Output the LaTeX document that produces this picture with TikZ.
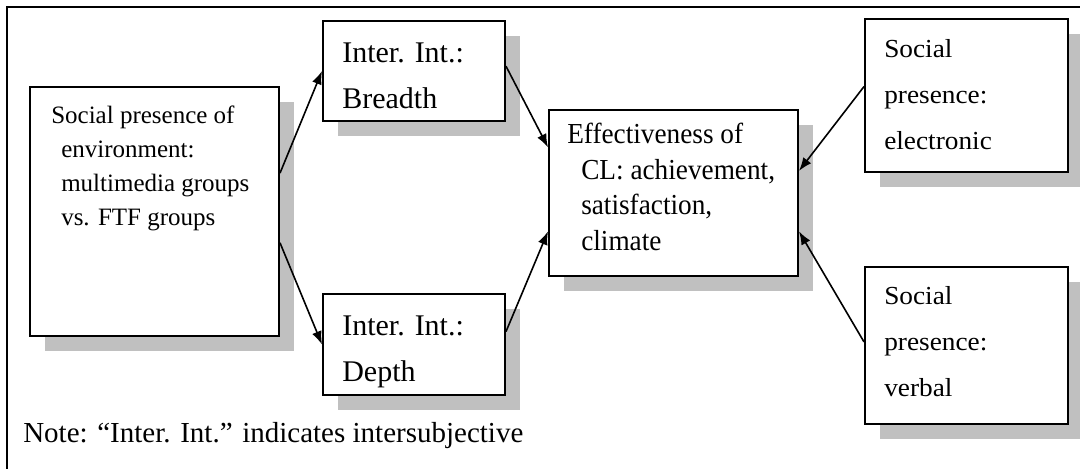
\documentclass[tikz,border=0pt]{standalone}
\usepackage{fontspec}
\setmainfont{Liberation Serif}
\newfontfamily\efffont[FakeStretch=0.94]{Liberation Serif}
\newfontfamily\socfont[FakeStretch=1.05]{Liberation Serif}
\usepackage{xcolor}
\usetikzlibrary{positioning,arrows.meta,shadows}
\definecolor{ink}  {HTML}{000000}
\definecolor{shade}{HTML}{C0C0C0}
\tikzset{
  card/.style  = {draw=ink, fill=white, line width=1.5pt, inner sep=0pt,
                  drop shadow={shadow xshift=11pt, shadow yshift=-11pt,
                               fill=shade, opacity=1}},
  flow/.style  = {-{Latex[length=10pt,width=7.5pt]}, draw=ink, line width=1.2pt},
  frame/.style = {draw=ink, line width=1.3pt},
  txt/.style   = {anchor=base west, align=left, inner sep=0pt, text=ink},
  small/.style = {font=\fontsize{18.75}{25.5}\selectfont},
  mid/.style   = {font=\efffont\fontsize{21.75}{26.6}\selectfont},
  wide/.style  = {font=\socfont\fontsize{19.5}{34.5}\selectfont},
  big/.style   = {font=\fontsize{22.5}{34.5}\selectfont},
}

\begin{document}
\begin{tikzpicture}[x=0.75pt, y=-0.75pt]
  \useasboundingbox (0,0) rectangle (1080,469);
  % outer frame (cut at right and bottom)
  \draw[frame] (1080,7) -- (7,7) -- (7,469);

  % boxes
  \node[card, minimum width=186.75pt, minimum height=186.75pt] (env)    at (154.5,211.5) {};
  \node[card, minimum width=136.5pt,  minimum height=75pt]     (breadth) at (414,71) {};
  \node[card, minimum width=136.5pt,  minimum height=75.75pt]  (depth)  at (414,344.5) {};
  \node[card, minimum width=186.75pt, minimum height=124.5pt]  (eff)    at (673.5,193) {};
  \node[card, minimum width=152.25pt, minimum height=114.75pt] (elec)   at (966.5,95.5) {};
  \node[card, minimum width=152.25pt, minimum height=117.75pt] (verbal) at (966.5,345.5) {};

  % box texts (anchored at the last line)
  \node[txt, small] (envtxt) at ([shift={(22,139)}]env.north west)
    {Social presence of\\\hspace*{7.5pt}environment:\\\hspace*{7.5pt}multimedia groups\\\hspace*{7.5pt}vs. FTF groups};
  \node[txt, big] (breadthtxt) at ([shift={(20,88)}]breadth.north west) {Inter. Int.:\\Breadth};
  \node[txt, big] (depthtxt) at ([shift={(20,88)}]depth.north west) {Inter. Int.:\\Depth};
  \node[txt, mid] (efftxt) at ([shift={(19,141)}]eff.north west)
    {Effectiveness of\\\hspace*{10.5pt}CL: achievement,\\\hspace*{10.5pt}satisfaction,\\\hspace*{10.5pt}climate};
  \node[txt, wide] (electxt) at ([shift={(20,131)}]elec.north west) {Social\\presence:\\electronic};
  \node[txt, wide] (verbaltxt) at ([shift={(20,130)}]verbal.north west) {Social\\presence:\\verbal};

  % note
  \node[txt, font=\fontsize{21.75}{26}\selectfont] (note) at (23,442)
    {Note: “Inter. Int.” indicates intersubjective};

  % connectors
  \draw[flow] (env.17) -- (breadth.west);
  \draw[flow] (env.-14) -- (depth.west);
  \draw[flow] (breadth.3) -- (eff.160);
  \draw[flow] (depth.8) -- (eff.-163);
  \draw[flow] (elec.175) -- (eff.10);
  \draw[flow] (verbal.178) -- (eff.-17);
\end{tikzpicture}
\end{document}
